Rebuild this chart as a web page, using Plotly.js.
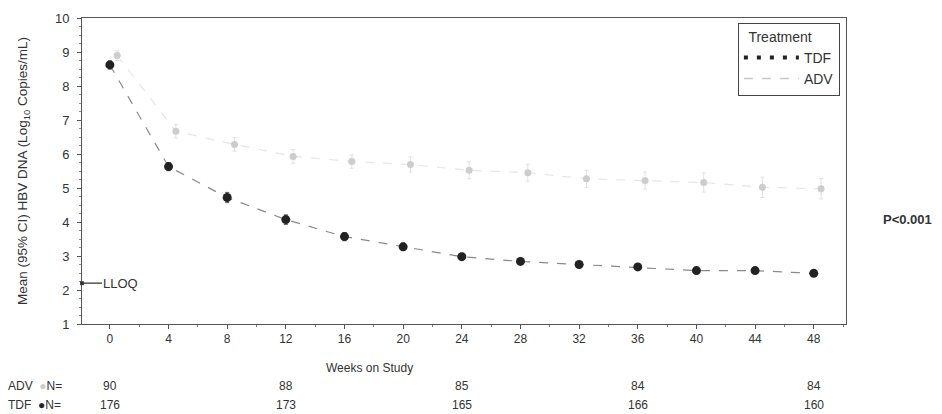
<!DOCTYPE html>
<html>
<head>
<meta charset="utf-8">
<script src="https://cdn.plot.ly/plotly-3.0.1.min.js"></script>
<style>html,body{margin:0;padding:0;background:#fff;}#chart{width:942px;height:414px;}</style>
</head>
<body>
<div id="chart"></div>
<script>
const weeks = [0, 4, 8, 12, 16, 20, 24, 28, 32, 36, 40, 44, 48];
const tdfMean = [8.62, 5.63, 4.72, 4.07, 3.57, 3.27, 2.98, 2.84, 2.75, 2.68, 2.57, 2.57, 2.49];
const tdfErr = [0.12, 0.12, 0.15, 0.14, 0.12, 0.11, 0.10, 0.09, 0.09, 0.08, 0.08, 0.08, 0.08];
const advMean = [8.9, 6.67, 6.28, 5.93, 5.78, 5.69, 5.52, 5.45, 5.27, 5.22, 5.16, 5.02, 4.98];
const advErr = [0.15, 0.2, 0.2, 0.2, 0.2, 0.22, 0.25, 0.25, 0.25, 0.25, 0.28, 0.3, 0.3];
const nWeeks = [0, 12, 24, 36, 48];
const advN = ["90", "88", "85", "84", "84"];
const tdfN = ["176", "173", "165", "166", "160"];
const lloq = 2.2;

const font = "Liberation Sans, Arial, sans-serif";

const traces = [
  {
    x: weeks.map(w => w + 0.5), y: advMean, name: "ADV", type: "scatter", mode: "lines+markers",
    showlegend: false,
    line: {color: "#e6e6e6", width: 1.2, dash: "dash"},
    marker: {color: "#cdcdcd", size: 7, symbol: "circle"},
    error_y: {type: "data", array: advErr, color: "#e0e0e0", thickness: 1, width: 2}
  },
  {
    x: weeks, y: tdfMean, name: "TDF", type: "scatter", mode: "lines+markers",
    showlegend: false,
    line: {color: "#8a8a8a", width: 1.2, dash: "dash"},
    marker: {color: "#222222", size: 9, symbol: "circle"},
    error_y: {type: "data", array: tdfErr, color: "#555555", thickness: 1, width: 2}
  },
  {
    x: [null], y: [null], name: "TDF", type: "scatter", mode: "lines",
    line: {color: "#222222", width: 4, dash: "4px,9px"}
  },
  {
    x: [null], y: [null], name: "ADV", type: "scatter", mode: "lines",
    line: {color: "#c8c8c8", width: 1.5, dash: "dash"}
  }
];

const annotations = [
  {xref: "paper", yref: "y", x: 0.0, y: lloq, ax: 20, ay: 0, axref: "pixel", ayref: "pixel",
   showarrow: true, arrowhead: 7, arrowsize: 0.8, arrowwidth: 1.2, arrowcolor: "#333",
   text: "", xanchor: "left"},
  {xref: "paper", yref: "y", x: 0.0, y: lloq, xshift: 19, showarrow: false, text: "LLOQ",
   xanchor: "left", font: {family: font, size: 13, color: "#333"}},
  {xref: "paper", yref: "paper", x: 1.081, y: 0.31, showarrow: false, text: "<b>P<0.001</b>",
   xanchor: "center", font: {family: font, size: 13, color: "#333"}},
  {xref: "paper", yref: "paper", x: 0.376, y: 0, yshift: -35, showarrow: false, text: "Weeks on Study",
   xanchor: "center", yanchor: "top", font: {family: font, size: 12, color: "#333"}},
  {xref: "paper", yref: "paper", x: -0.1, y: 0, yshift: -53, showarrow: false,
   text: "ADV  <span style='color:#cccccc'>●</span>N=", xanchor: "left", yanchor: "top",
   font: {family: font, size: 12, color: "#333"}},
  {xref: "paper", yref: "paper", x: -0.1, y: 0, yshift: -72, showarrow: false,
   text: "TDF  <span style='color:#222'>●</span>N=", xanchor: "left", yanchor: "top",
   font: {family: font, size: 12, color: "#333"}}
];
nWeeks.forEach((w, i) => {
  annotations.push({xref: "x", yref: "paper", x: w, y: 0, yshift: -53, showarrow: false, text: advN[i],
    xanchor: "center", yanchor: "top", font: {family: font, size: 12, color: "#333"}});
  annotations.push({xref: "x", yref: "paper", x: w, y: 0, yshift: -72, showarrow: false, text: tdfN[i],
    xanchor: "center", yanchor: "top", font: {family: font, size: 12, color: "#333"}});
});

const layout = {
  width: 942, height: 414,
  margin: {l: 82, r: 96, t: 18, b: 90},
  paper_bgcolor: "#fff", plot_bgcolor: "#fff",
  font: {family: font, size: 12, color: "#333"},
  showlegend: true,
  legend: {
    x: 0.992, xanchor: "right", y: 0.985, yanchor: "top",
    bordercolor: "#444", borderwidth: 1, bgcolor: "#fff",
    title: {text: "  Treatment", font: {family: font, size: 14, color: "#333"}},
    font: {family: font, size: 14, color: "#333"},
    itemwidth: 55,
    entrywidth: 120,
    tracegroupgap: 0
  },
  xaxis: {
    range: [-1.9, 50.2], tickmode: "array", tickvals: weeks, ticktext: weeks.map(String),
    showgrid: false, zeroline: false, showline: true, linecolor: "#555", linewidth: 1, mirror: true,
    ticks: "outside", ticklen: 4, tickcolor: "#555",
    minor: {tickvals: weeks.map(w => w + 2), ticks: "outside", ticklen: 2, tickcolor: "#777"},
    tickfont: {family: font, size: 12, color: "#333"}
  },
  yaxis: {
    range: [1, 10], dtick: 1, tick0: 0,
    showgrid: false, zeroline: false, showline: true, linecolor: "#555", linewidth: 1, mirror: true,
    ticks: "outside", ticklen: 4, tickcolor: "#555",
    ticklabelstandoff: 5,
    minor: {dtick: 0.25, ticks: "outside", ticklen: 2, tickcolor: "#888"},
    tickfont: {family: font, size: 13, color: "#333"},
    title: {text: "Mean (95% CI) HBV DNA (Log<sub>10</sub> Copies/mL)", standoff: 24,
            font: {family: font, size: 13.5, color: "#333"}}
  },
  annotations: annotations
};

Plotly.newPlot("chart", traces, layout, {displayModeBar: false, staticPlot: true});
</script>
</body>
</html>
